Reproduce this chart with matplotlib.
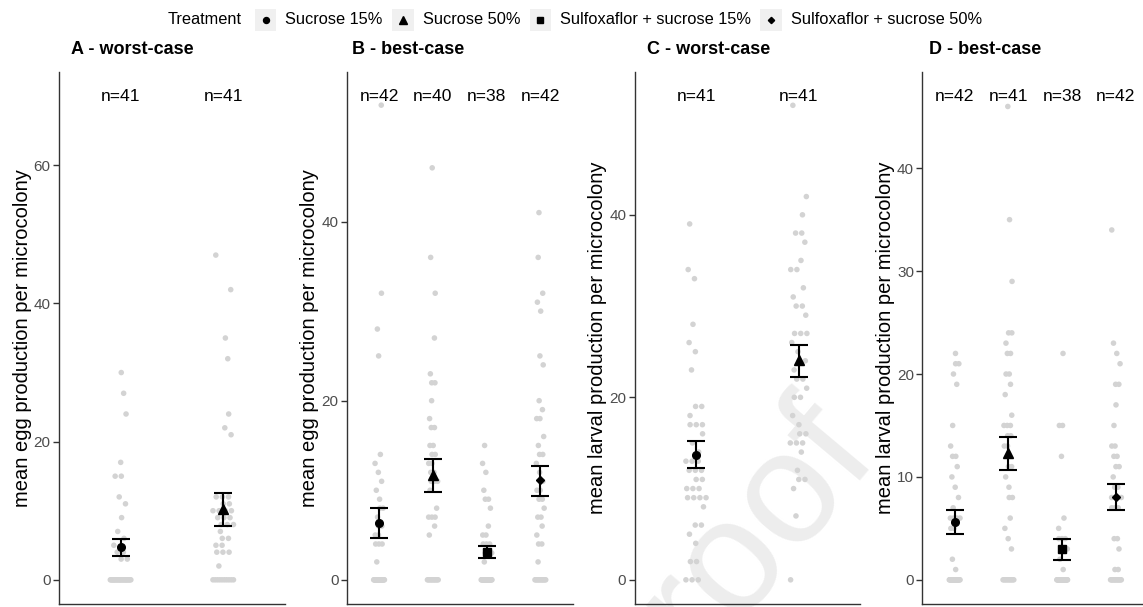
import matplotlib
matplotlib.use("Agg")
import matplotlib.pyplot as plt
from matplotlib.patches import Rectangle
import numpy as np

plt.rcParams['font.family'] = ['Liberation Sans', 'DejaVu Sans']

# ---------------- data ----------------
treatments = ["Sucrose 15%", "Sucrose 50%",
              "Sulfoxaflor + sucrose 15%", "Sulfoxaflor + sucrose 50%"]
treatment_markers = ['o', '^', 's', 'D']

panel_titles = ["A - worst-case", "B - best-case", "C - worst-case", "D - best-case"]
panel_ylabels = ["mean egg production per microcolony",
                 "mean egg production per microcolony",
                 "mean larval production per microcolony",
                 "mean larval production per microcolony"]
panel_treatments = [[0, 1], [0, 1, 2, 3], [0, 1], [0, 1, 2, 3]]
panel_n = [[41, 41], [42, 40, 38, 42], [41, 41], [42, 41, 38, 42]]
panel_label_y = [70, 54, 53, 47]
panel_yticks = [[0, 20, 40, 60], [0, 20, 40], [0, 20, 40], [0, 10, 20, 30, 40]]

# Panel A - eggs, worst-case
A_suc15 = [30, 27, 24, 17, 15, 15, 12, 11, 9, 7, 6, 5, 4, 4, 3, 3,
           0, 0, 0, 0, 0, 0, 0, 0, 0, 0, 0, 0, 0, 0, 0, 0, 0, 0, 0, 0, 0, 0, 0, 0, 0]
A_suc50 = [47, 42, 35, 32, 24, 22, 21, 12, 12, 12, 11, 11, 10, 10, 10, 10, 9, 9, 9,
           8, 8, 8, 7, 6, 6, 5, 5, 4, 4, 4, 2,
           0, 0, 0, 0, 0, 0, 0, 0, 0, 0]
# Panel B - eggs, best-case
B_suc15 = [53, 32, 28, 25, 14, 13, 12, 11, 10, 9, 8, 8, 7, 6, 6, 5, 5, 4, 4, 4, 2,
           0, 0, 0, 0, 0, 0, 0, 0, 0, 0, 0, 0, 0, 0, 0, 0, 0, 0, 0, 0, 0]
B_suc50 = [46, 36, 32, 27, 23, 22, 22, 20, 18, 17, 17, 15, 15, 14, 14, 13, 13, 12, 12,
           11, 11, 11, 10, 8, 7, 7, 7, 6, 5,
           0, 0, 0, 0, 0, 0, 0, 0, 0, 0, 0]
B_sul15 = [15, 13, 12, 10, 9, 9, 8, 6, 5, 5, 4, 4, 4, 3, 3, 3, 2,
           0, 0, 0, 0, 0, 0, 0, 0, 0, 0, 0, 0, 0, 0, 0, 0, 0, 0, 0, 0, 0]
B_sul50 = [41, 36, 32, 31, 30, 25, 24, 20, 19, 18, 18, 16, 15, 14, 14, 13, 12, 11,
           10, 10, 9, 9, 8, 7, 7, 6, 5, 4, 4, 2,
           0, 0, 0, 0, 0, 0, 0, 0, 0, 0, 0, 0]
# Panel C - larvae, worst-case
C_suc15 = [39, 34, 33, 28, 26, 25, 23, 19, 19, 18, 17, 17, 17, 16, 15, 14, 13, 13, 13,
           12, 12, 12, 11, 11, 10, 10, 10, 9, 9, 9, 9, 8, 6, 6, 5, 4, 2, 2,
           0, 0, 0]
C_suc50 = [52, 42, 40, 38, 38, 37, 35, 34, 34, 32, 31, 30, 30, 29, 27, 27, 27, 26, 25,
           24, 24, 23, 22, 22, 21, 20, 20, 18, 17, 16, 16, 15, 15, 15, 14, 12, 11, 11,
           10, 7, 0]
# Panel D - larvae, best-case
D_suc15 = [22, 21, 21, 20, 19, 15, 13, 12, 12, 11, 10, 9, 8, 7, 6, 6, 6, 6, 5, 5, 2, 1,
           0, 0, 0, 0, 0, 0, 0, 0, 0, 0, 0, 0, 0, 0, 0, 0, 0, 0, 0, 0]
D_suc50 = [46, 35, 29, 24, 24, 23, 22, 22, 20, 20, 19, 18, 16, 15, 15, 15, 14, 14, 13,
           13, 12, 11, 11, 10, 9, 8, 8, 6, 5, 4, 3,
           0, 0, 0, 0, 0, 0, 0, 0, 0, 0]
D_sul15 = [22, 15, 15, 12, 6, 5, 4, 4, 4, 3, 3, 3, 2, 1,
           0, 0, 0, 0, 0, 0, 0, 0, 0, 0, 0, 0, 0, 0, 0, 0, 0, 0, 0, 0, 0, 0, 0, 0]
D_sul50 = [34, 23, 22, 21, 19, 19, 17, 15, 13, 13, 12, 12, 11, 11, 10, 9, 9, 8, 8, 8,
           8, 7, 7, 7, 4, 4, 3, 1, 1,
           0, 0, 0, 0, 0, 0, 0, 0, 0, 0, 0, 0, 0]

panel_values = [[A_suc15, A_suc50],
                [B_suc15, B_suc50, B_sul15, B_sul50],
                [C_suc15, C_suc50],
                [D_suc15, D_suc50, D_sul15, D_sul50]]

# means with lower / upper error-bar limits
panel_mean = [[4.7, 10.2], [6.3, 11.75, 3.1, 11.1], [13.7, 24.05], [5.65, 12.3, 2.95, 8.0]]
panel_lower = [[3.45, 7.8], [4.7, 9.85, 2.4, 9.35], [12.2, 22.2], [4.5, 10.65, 1.95, 6.75]]
panel_upper = [[5.95, 12.5], [8.0, 13.5, 3.8, 12.7], [15.2, 25.7], [6.75, 13.9, 3.95, 9.3]]

# ---------------- layout ----------------
W, H = 1143, 607
fig = plt.figure(figsize=(W / 100, H / 100), dpi=100)

panel_left_px = [59, 346.8, 634.6, 922.4]
panel_width_px = 225.8
panel_top_px, panel_bottom_px = 72, 604
title_x_px = [71, 352, 647, 929]

point_color = '#D3D3D3'
axis_color = '#333333'
tick_label_color = '#4D4D4D'


def jitter(vals, width=0.1):
    vals = np.asarray(vals, dtype=float)
    off = np.zeros(len(vals))
    for v in np.unique(vals):
        idx = np.where(vals == v)[0]
        k = len(idx)
        shift = (((v * 0.6180339) % 1.0) - 0.5) * 2 * width
        if k == 1:
            off[idx] = shift * 0.8
        else:
            spread = width * min(1.0, 0.3 * (k - 1))
            centre = np.clip(shift * 0.5, -width + spread, width - spread)
            off[idx] = centre + np.linspace(-spread, spread, k)
    return off


# background overlay (watermark + legend), behind the panels
lax = fig.add_axes([0, 0, 1, 1], zorder=0)
lax.set_xlim(0, W)
lax.set_ylim(H, 0)
lax.axis('off')
lax.text(700, 660, "roof", rotation=50, fontsize=115, color='#EDEDED',
         ha='left', va='baseline', rotation_mode='anchor', zorder=0)

for p in range(4):
    left = panel_left_px[p] / W
    bottom = (H - panel_bottom_px) / H
    height = (panel_bottom_px - panel_top_px) / H
    ax = fig.add_axes([left, bottom, panel_width_px / W, height], zorder=1)
    ax.patch.set_alpha(0)
    groups = panel_treatments[p]
    ng = len(groups)
    xs = np.arange(1, ng + 1)
    for gi, t in enumerate(groups):
        vals = panel_values[p][gi]
        ax.scatter(xs[gi] + jitter(vals), vals, s=16, color=point_color,
                   edgecolors='none', zorder=2)
        m = panel_mean[p][gi]
        lo = panel_lower[p][gi]
        hi = panel_upper[p][gi]
        ax.errorbar([xs[gi]], [m], yerr=[[m - lo], [hi - m]], fmt='none',
                    ecolor='black', elinewidth=1.5, capsize=6.8, capthick=1.5, zorder=3)
        mk = treatment_markers[t]
        ms = {'o': 5.5, '^': 6.5, 's': 5.2, 'D': 3.8}[mk]
        ax.plot([xs[gi]], [m], marker=mk, ms=ms, color='black', linestyle='none', zorder=4)
        ax.text(xs[gi], panel_label_y[p], f"n={panel_n[p][gi]}", ha='center',
                va='center', fontsize=12.6, color='black')
    ymax = panel_label_y[p]
    ax.set_ylim(-0.05 * ymax, 1.05 * ymax)
    ax.set_xlim(0.4, ng + 0.6)
    ax.set_xticks([])
    ax.set_yticks(panel_yticks[p])
    ax.tick_params(axis='y', length=4, width=1.0, color=axis_color,
                   labelcolor=tick_label_color, labelsize=11, pad=2)
    for s in ['top', 'right']:
        ax.spines[s].set_visible(False)
    for s in ['left', 'bottom']:
        ax.spines[s].set_color(axis_color)
        ax.spines[s].set_linewidth(1.0)
    ax.set_ylabel(panel_ylabels[p], fontsize=14.5, labelpad=1.5, color='black')
    fig.text(title_x_px[p] / W, 1 - 50 / H, panel_titles[p], fontsize=13,
             fontweight='bold', ha='left', va='center')

# ---------------- legend (top, horizontal) ----------------
fig.canvas.draw()
renderer = fig.canvas.get_renderer()
leg_y = 20
leg_fs = 11.8
key_w = 21.6
gap_title, gap_key, gap_item = 13, 9, 9.3

title_t = lax.text(0, leg_y, "Treatment", fontsize=leg_fs, ha='left', va='center')
label_ts = [lax.text(0, leg_y, lab, fontsize=leg_fs, ha='left', va='center')
            for lab in treatments]
wt = title_t.get_window_extent(renderer).width
wl = [t.get_window_extent(renderer).width for t in label_ts]
total = wt + gap_title + sum(key_w + gap_key + w for w in wl) + gap_item * (len(wl) - 1)
x = 575 - total / 2
title_t.set_x(x)
x += wt + gap_title
leg_ms = {'o': 4.3, '^': 5.5, 's': 4.3, 'D': 3.2}
for i, t in enumerate(label_ts):
    lax.add_patch(Rectangle((x, leg_y - key_w / 2), key_w, key_w,
                            facecolor='#F0F0F0', edgecolor='none'))
    mk = treatment_markers[i]
    lax.plot([x + key_w / 2], [leg_y], marker=mk, ms=leg_ms[mk], color='black',
             linestyle='none')
    x += key_w + gap_key
    t.set_x(x)
    x += wl[i] + gap_item

fig.savefig("out.png", dpi=100)
